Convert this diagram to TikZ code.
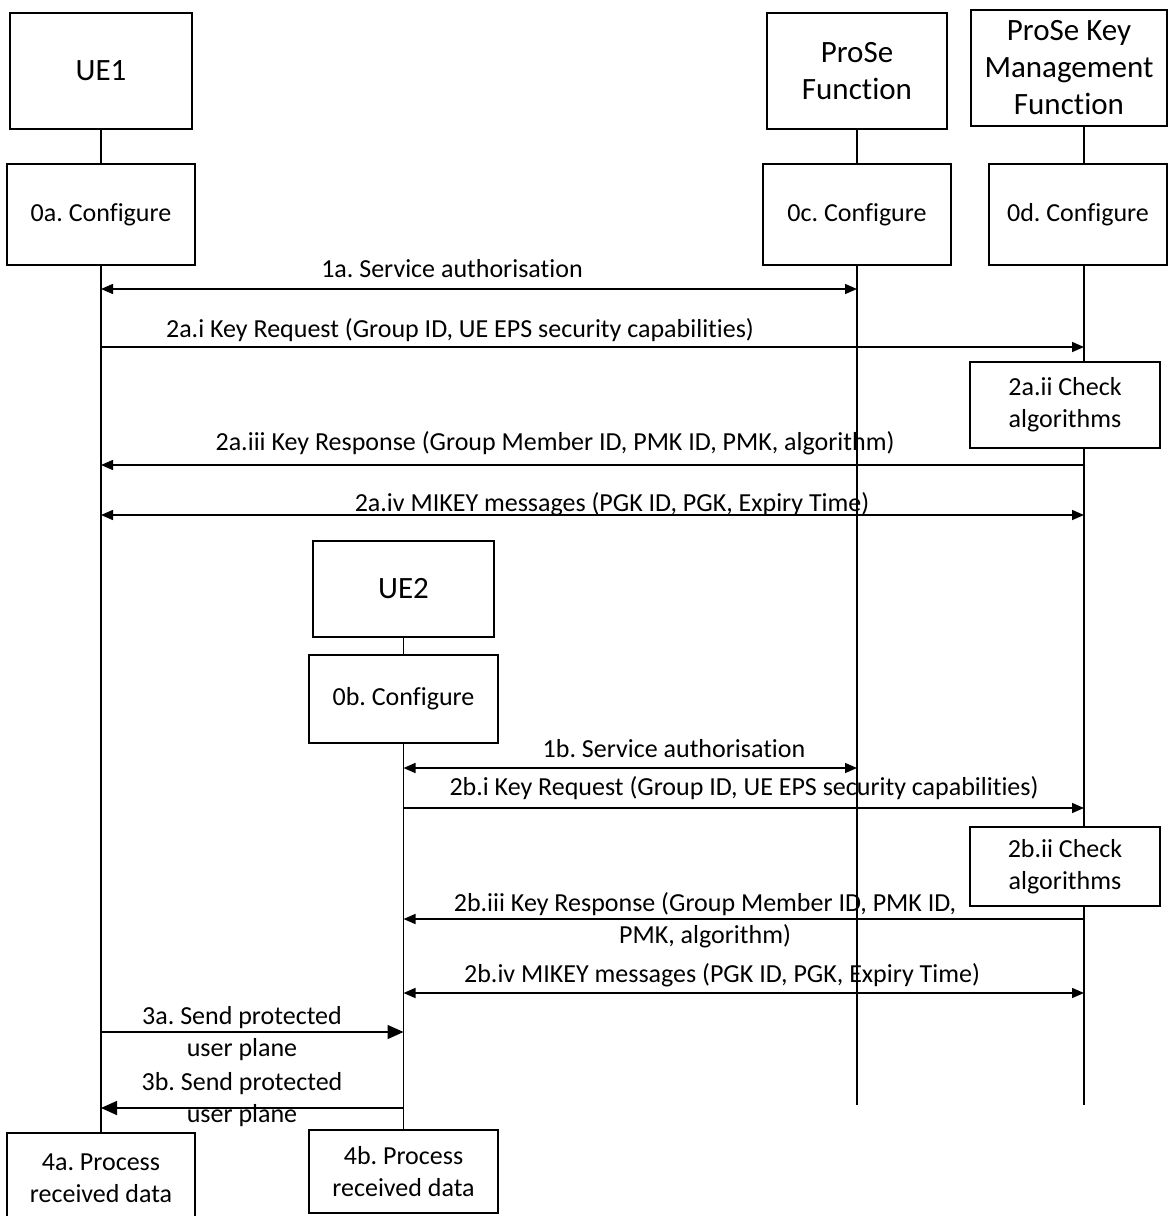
\documentclass[tikz,border=0pt]{standalone}
\usepackage{fontspec}
\setmainfont{Carlito}[Ligatures=NoCommon]
\frenchspacing
\usetikzlibrary{arrows.meta,backgrounds}

\begin{document}
\begin{tikzpicture}[x=1pt,y=-1pt,>={Triangle[length=12pt,width=10pt]},
  box/.style={draw,fill=white,line width=1.4pt,inner sep=0pt,align=center,font=\fontsize{26}{32}\selectfont},
  head/.style={box,font=\fontsize{31}{37}\selectfont},
  msg/.style={line width=1.5pt},
  life/.style={line width=1.2pt},
  lbl/.style={inner sep=0pt,align=center,font=\fontsize{26}{32}\selectfont}]
  \useasboundingbox (0,0) rectangle (1168,1216);

  \node[head,minimum width=182,minimum height=116] (ue1) at (101,71) {UE1};
  \node[head,minimum width=180,minimum height=116] (pf) at (857,71) {ProSe\\Function};
  \node[head,minimum width=196,minimum height=116] (kmf) at (1069,68) {ProSe Key\\Management\\Function};
  \node[box,minimum width=188,minimum height=101] (cfg0a) at (101,214.5) {0a. Configure};
  \node[box,minimum width=188,minimum height=101] (cfg0c) at (857,214.5) {0c. Configure};
  \node[box,minimum width=178,minimum height=101] (cfg0d) at (1078,214.5) {0d. Configure};
  \node[box,minimum width=190,minimum height=86] (chk2a) at (1065,405) {2a.ii Check\\algorithms};
  \node[head,minimum width=181,minimum height=96] (ue2) at (403.5,589) {UE2};
  \node[box,minimum width=189,minimum height=88] (cfg0b) at (403.5,699) {0b. Configure};
  \node[box,minimum width=190,minimum height=79] (chk2b) at (1065,866.5) {2b.ii Check\\algorithms};
  \node[box,minimum width=188,minimum height=90] (proc4a) at (101,1178) {4a. Process\\received data};
  \node[box,minimum width=189,minimum height=83] (proc4b) at (403.5,1171.5) {4b. Process\\received data};

  \coordinate (pfend) at (857,1105);
  \coordinate (kmfend) at (1084,1105);
  \begin{scope}[on background layer]
    \draw[life] (ue1) -- (proc4a);
    \draw[life] (ue2) -- (proc4b);
    \draw[life] (pf) -- (pfend);
    \draw[life] (kmf.south -| kmfend) -- (kmfend);
  \end{scope}

  \coordinate (r1a) at (0,289);
  \coordinate (r2ai) at (0,347);
  \coordinate (r2aiii) at (0,465);
  \coordinate (r2aiv) at (0,515);
  \coordinate (r1b) at (0,768);
  \coordinate (r2bi) at (0,808);
  \coordinate (r2biii) at (0,919);
  \coordinate (r2biv) at (0,993);
  \coordinate (r3a) at (0,1032);
  \coordinate (r3b) at (0,1108);

  \draw[msg,<->] (ue1 |- r1a) -- (pf |- r1a);
  \draw[msg,->] (ue1 |- r2ai) -- (kmfend |- r2ai);
  \draw[msg,<-] (ue1 |- r2aiii) -- (kmfend |- r2aiii);
  \draw[msg,<->] (ue1 |- r2aiv) -- (kmfend |- r2aiv);
  \draw[msg,<->] (ue2 |- r1b) -- (pf |- r1b);
  \draw[msg,->] (ue2 |- r2bi) -- (kmfend |- r2bi);
  \draw[msg,<-] (ue2 |- r2biii) -- (kmfend |- r2biii);
  \draw[msg,<->] (ue2 |- r2biv) -- (kmfend |- r2biv);
  \draw[msg,-{Triangle[length=16pt,width=14pt]}] (ue1 |- r3a) -- (ue2 |- r3a);
  \draw[msg,{Triangle[length=16pt,width=14pt]}-] (ue1 |- r3b) -- (ue2 |- r3b);

  \node[lbl,anchor=base] (t1a) at (452,277) {1a. Service authorisation};
  \node[lbl,anchor=base] (t2ai) at (460,337) {2a.i Key Request (Group ID, UE EPS security capabilities)};
  \node[lbl,anchor=base] (t2aiii) at (555,450) {2a.iii Key Response (Group Member ID, PMK ID, PMK, algorithm)};
  \node[lbl,anchor=base] (t2aiv) at (612,511) {2a.iv MIKEY messages (PGK ID, PGK, Expiry Time)};
  \node[lbl,anchor=base] (t1b) at (674,757) {1b. Service authorisation};
  \node[lbl,anchor=base] (t2bi) at (744,795) {2b.i Key Request (Group ID, UE EPS security capabilities)};
  \node[lbl] (t2biii) at (705,920) {2b.iii Key Response (Group Member ID, PMK ID,\\PMK, algorithm)};
  \node[lbl,anchor=base] (t2biv) at (722,982) {2b.iv MIKEY messages (PGK ID, PGK, Expiry Time)};
  \node[lbl] (t3a) at (242,1034) {3a. Send protected\\user plane};
  \node[lbl] (t3b) at (242,1100) {3b. Send protected\\user plane};
\end{tikzpicture}
\end{document}
